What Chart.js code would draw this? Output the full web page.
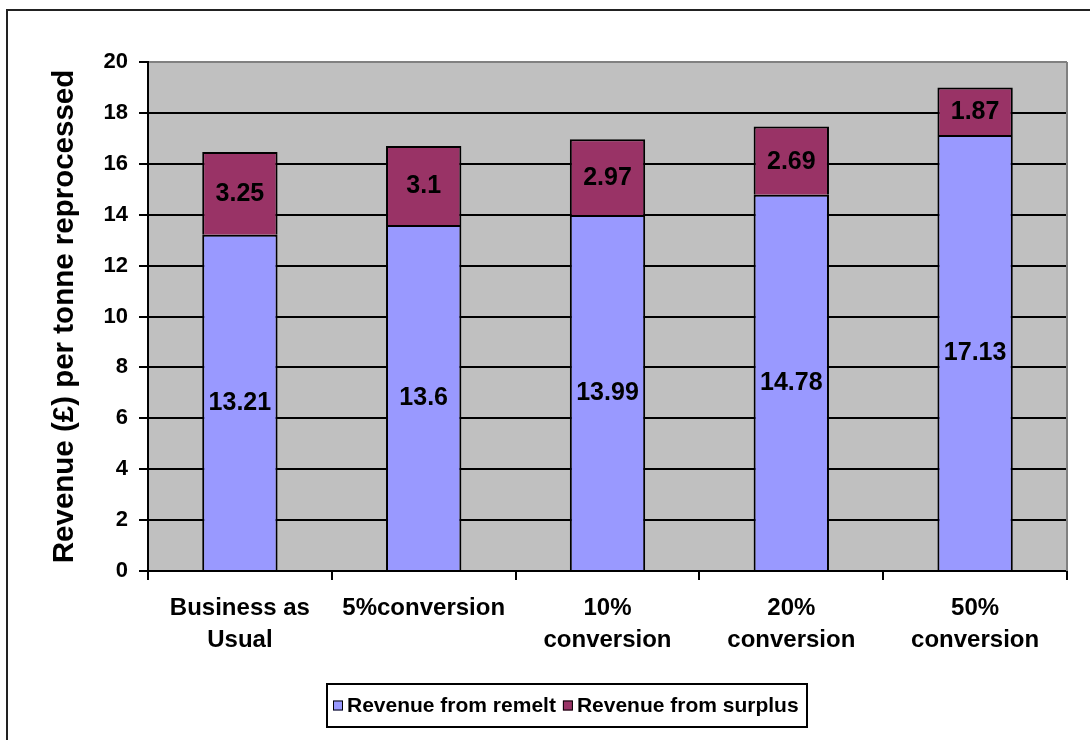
<!DOCTYPE html>
<html>
<head>
<meta charset="utf-8">
<script src="https://cdn.jsdelivr.net/npm/chart.js@4"></script>
<style>
  body { margin: 0; background: #fff; }
  canvas { display: block; }
</style>
</head>
<body>
<canvas id="revenueChart" width="1090" height="740"></canvas>
<script>
const categories = [['Business as', 'Usual'], '5%conversion', ['10%', 'conversion'], ['20%', 'conversion'], ['50%', 'conversion']];
const remelt = [13.21, 13.6, 13.99, 14.78, 17.13];
const surplus = [3.25, 3.1, 2.97, 2.69, 1.87];
const seriesNames = ['Revenue from remelt', 'Revenue from surplus'];
const yMin = 0, yMax = 20, yStep = 2;

const FONT = '"Liberation Sans", Arial, sans-serif';

// grey plot area, frame and outer border
const backdrop = {
    id: 'backdrop',
    beforeDraw(chart) {
        const { ctx, chartArea: a } = chart;
        ctx.save();
        ctx.fillStyle = '#C0C0C0';
        ctx.fillRect(a.left, a.top, a.right - a.left, a.bottom - a.top);
        ctx.strokeStyle = '#222';
        ctx.lineWidth = 2;
        ctx.strokeRect(7, 10, 1200, 900);
        ctx.restore();
    },
    beforeDatasetsDraw(chart) {
        const { ctx, chartArea: a } = chart;
        ctx.save();
        ctx.strokeStyle = '#808080';
        ctx.lineWidth = 2;
        ctx.beginPath();
        ctx.moveTo(a.right, a.top);
        ctx.lineTo(a.right, a.bottom);
        ctx.stroke();
        ctx.restore();
    }
};

// value in the middle of every segment
const segmentLabels = {
    id: 'segmentLabels',
    afterDatasetsDraw(chart) {
        const { ctx } = chart;
        ctx.save();
        ctx.font = 'bold 25px ' + FONT;
        ctx.fillStyle = '#000';
        ctx.textAlign = 'center';
        ctx.textBaseline = 'middle';
        chart.data.datasets.forEach((ds, i) => {
            chart.getDatasetMeta(i).data.forEach((bar, j) => {
                ctx.fillText(String(ds.data[j]), bar.x, (bar.y + bar.base) / 2 + 1);
            });
        });
        ctx.restore();
    }
};

// boxed legend under the axis
const boxedLegend = {
    id: 'boxedLegend',
    afterDraw(chart) {
        const { ctx } = chart;
        const box = { x: 327, y: 684, w: 480, h: 43 };
        ctx.save();
        ctx.strokeStyle = '#000';
        ctx.lineWidth = 2;
        ctx.strokeRect(box.x, box.y, box.w, box.h);
        ctx.font = 'bold 21px ' + FONT;
        ctx.textBaseline = 'middle';
        let x = box.x + 6;
        const cy = box.y + box.h / 2;
        chart.data.datasets.forEach(ds => {
            ctx.fillStyle = ds.backgroundColor;
            ctx.fillRect(x, cy - 5, 10, 10);
            ctx.lineWidth = 1;
            ctx.strokeRect(x + 0.5, cy - 4.5, 9, 9);
            ctx.fillStyle = '#000';
            ctx.fillText(ds.label, x + 14, cy + 1);
            x += 14 + ctx.measureText(ds.label).width + 7;
        });
        ctx.restore();
    }
};

new Chart(document.getElementById('revenueChart'), {
    type: 'bar',
    data: {
        labels: categories,
        datasets: [
            {
                label: seriesNames[0],
                data: remelt,
                backgroundColor: '#9999FF',
                borderColor: '#000',
                borderWidth: 2
            },
            {
                label: seriesNames[1],
                data: surplus,
                backgroundColor: '#993366',
                borderColor: '#000',
                borderWidth: 2
            }
        ]
    },
    options: {
        responsive: false,
        animation: false,
        layout: { padding: { top: 62, right: 23, left: 0, bottom: 0 } },
        datasets: { bar: { categoryPercentage: 1, barPercentage: 0.41 } },
        plugins: {
            legend: { display: false },
            tooltip: { enabled: false }
        },
        scales: {
            x: {
                stacked: true,
                afterFit(scale) { scale.height = 169; },
                grid: {
                    drawOnChartArea: false,
                    color: '#000',
                    lineWidth: 2,
                    tickLength: 9
                },
                border: { color: '#000', width: 2 },
                ticks: {
                    color: '#000',
                    padding: 12,
                    maxRotation: 0,
                    autoSkip: false,
                    font: { family: FONT, size: 24, weight: 'bold', lineHeight: 1.33 }
                }
            },
            y: {
                stacked: true,
                min: yMin,
                max: yMax,
                afterFit(scale) { scale.width = 148; },
                grid: {
                    color: ctx => ctx.tick && ctx.tick.value === yMax ? '#808080' : '#000',
                    lineWidth: 2,
                    tickLength: 9,
                    tickColor: '#000'
                },
                border: { color: '#000', width: 2 },
                ticks: {
                    stepSize: yStep,
                    color: '#000',
                    padding: 11,
                    font: { family: FONT, size: 22, weight: 'bold' }
                },
                title: {
                    display: true,
                    text: 'Revenue (£) per tonne reprocessed',
                    color: '#000',
                    padding: { top: 47, bottom: 0 },
                    font: { family: FONT, size: 29.5, weight: 'bold' }
                }
            }
        }
    },
    plugins: [backdrop, segmentLabels, boxedLegend]
});
</script>
</body>
</html>
